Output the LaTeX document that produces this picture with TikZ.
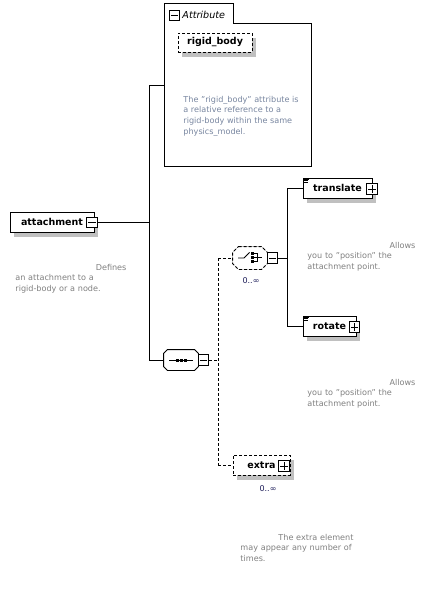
\documentclass[tikz,border=0pt]{standalone}
\usepackage{fontspec}
\setmainfont{DejaVu Sans}
\usetikzlibrary{shadows,calc}
\definecolor{desc}{RGB}{128,128,128}
\definecolor{adesc}{RGB}{120,134,160}
\definecolor{shade}{RGB}{192,192,192}
\definecolor{mult}{RGB}{30,30,90}
\newcommand{\nohyph}{\hyphenpenalty=10000\relax\exhyphenpenalty=10000\relax}
\begin{document}
\begin{tikzpicture}[x=1pt,y=-1pt,
  line width=0.9pt,
  shad/.style={drop shadow={shadow xshift=4pt,shadow yshift=-5pt,fill=shade,opacity=1}},
  elem/.style={draw, fill=white, inner sep=0pt, minimum height=20pt,
    font=\fontsize{9.5}{11}\selectfont\bfseries, shad},
  optelem/.style={elem, dashed, dash pattern=on 3pt off 2pt},
  iconbox/.style={draw, fill=white, inner sep=0pt, minimum size=10.5pt},
  desctext/.style={inner sep=0pt, anchor=north west, align=left, text=desc,
    font=\fontsize{8.1}{10.8}\selectfont\nohyph},
  multtext/.style={inner sep=0pt, text=mult, font=\fontsize{8}{10}\selectfont},
  conn/.style={line width=0.9pt},
  optconn/.style={line width=0.9pt, dash pattern=on 3pt off 2pt},
  oct/.style args={#1/#2}{insert path={
    ([xshift=#2]#1.north west) -- ([xshift=-#2]#1.north east) --
    ([yshift=-#2]#1.north east) -- ([yshift=#2]#1.south east) --
    ([xshift=-#2]#1.south east) -- ([xshift=#2]#1.south west) --
    ([yshift=#2]#1.south west) -- ([yshift=-#2]#1.north west) -- cycle}},
]
\useasboundingbox[fill=white] (0,0) rectangle (437,602);

% ---------- attribute group ----------
\node[inner sep=0pt, minimum width=146pt, minimum height=142pt] (attrbox) at (238,95) {};
\node[inner sep=0pt, minimum width=68pt, minimum height=19pt, anchor=south west] (attrtab) at (attrbox.north west) {};
\draw[fill=white] (attrtab.south west) -- (attrtab.north west) -- (attrtab.north east) --
  (attrtab.south east) -- (attrbox.north east) -- (attrbox.south east) -- (attrbox.south west) -- cycle;
\node[iconbox] (attrmin) at (174.5,15.5) {};
\draw ([xshift=2pt]attrmin.west) -- ([xshift=-2pt]attrmin.east);
\node[inner sep=0pt, anchor=west, font=\fontsize{9.6}{11}\selectfont\itshape] (attrlabel) at (182,15) {Attribute};
\node[optelem, minimum width=74pt, minimum height=19pt] (rigid) at (215,42.5) {rigid\_body};
\node[desctext, text=adesc] (rigiddesc) at (183,95.5) {The "rigid\_body" attribute is\\a relative reference to a\\rigid-body within the same\\physics\_model.};

% ---------- attachment ----------
\node[elem, minimum width=84pt] (attachment) at (52,222) {attachment\hspace{4pt}};
\node[iconbox] (attmin) at (92,222.5) {};
\draw ([xshift=2pt]attmin.west) -- ([xshift=-2pt]attmin.east);
\node[desctext, text width=111pt] (attdesc) at (15,263.5) {\hfill Defines\\an attachment to a\\rigid-body or a node.};

% ---------- sequence ----------
\node[inner sep=0pt, minimum width=34pt, minimum height=20pt] (seq) at (181,360) {};
\fill[shade, shift={(4,5)}, oct=seq/4pt];
\draw[fill=white, oct=seq/4pt];
\draw (169,360) -- (193,360);
\fill (175.5,358.5) rectangle (178.5,361.5);
\fill (179.5,358.5) rectangle (182.5,361.5);
\fill (183.5,358.5) rectangle (186.5,361.5);
\node[iconbox] (seqmin) at (203.5,360) {};
\draw ([xshift=2pt]seqmin.west) -- ([xshift=-2pt]seqmin.east);

% ---------- choice ----------
\node[inner sep=0pt, minimum width=34pt, minimum height=22pt] (choice) at (250,258) {};
\fill[shade, shift={(4,5)}, oct=choice/6pt];
\draw[fill=white, dash pattern=on 3pt off 2pt, oct=choice/6pt];
\draw (238,258) -- (244,258) -- (249.5,252.5);
\fill (250.5,252) rectangle (253.5,255);
\fill (250.5,256) rectangle (253.5,259);
\fill (250.5,260) rectangle (253.5,263);
\draw (254,253.5) -- (257.5,253.5) -- (257.5,261.5) -- (254,261.5);
\draw (254,257.5) -- (262,257.5);
\node[iconbox] (chmin) at (272.5,258) {};
\draw ([xshift=2pt]chmin.west) -- ([xshift=-2pt]chmin.east);
\node[multtext] (chmult) at (251,281) {0..∞};

% ---------- translate ----------
\node[elem, minimum width=69pt] (translate) at (337.5,188) {translate\hspace{5pt}};
\draw[line width=0.6pt] ([xshift=1.5pt,yshift=-1.5pt]translate.north west) -- ++(5,0)
  ([xshift=1.5pt,yshift=-3.2pt]translate.north west) -- ++(4,0)
  ([xshift=1.5pt,yshift=-4.9pt]translate.north west) -- ++(4,0);
\node[iconbox] (trplus) at (372,189) {};
\draw ([xshift=2pt]trplus.west) -- ([xshift=-2pt]trplus.east)
  ([yshift=-2pt]trplus.north) -- ([yshift=2pt]trplus.south);
\node[desctext, text width=108pt] (trdesc) at (307,241.5) {\hfill Allows\\you to "position" the\\attachment point.};

% ---------- rotate ----------
\node[elem, minimum width=53pt] (rotate) at (329.5,326) {rotate\hspace{4pt}};
\draw[line width=0.6pt] ([xshift=1.5pt,yshift=-1.5pt]rotate.north west) -- ++(5,0)
  ([xshift=1.5pt,yshift=-3.2pt]rotate.north west) -- ++(4,0)
  ([xshift=1.5pt,yshift=-4.9pt]rotate.north west) -- ++(4,0);
\node[iconbox] (rotplus) at (354.5,327) {};
\draw ([xshift=2pt]rotplus.west) -- ([xshift=-2pt]rotplus.east)
  ([yshift=-2pt]rotplus.north) -- ([yshift=2pt]rotplus.south);
\node[desctext, text width=108pt] (rotdesc) at (307,378.5) {\hfill Allows\\you to "position" the\\attachment point.};

% ---------- extra ----------
\node[optelem, minimum width=57pt] (extra) at (261.5,465) {extra\hspace{10pt}};
\node[iconbox] (explus) at (284,466) {};
\draw ([xshift=2pt]explus.west) -- ([xshift=-2pt]explus.east)
  ([yshift=-2pt]explus.north) -- ([yshift=2pt]explus.south);
\node[multtext] (exmult) at (268,488.5) {0..∞};
\node[desctext, text width=113pt] (exdesc) at (240,533.5) {\hfill The extra element\\may appear any number of\\times.};

% ---------- connectors ----------
\coordinate (j1) at (149,85);
\coordinate (j2) at (149,360);
\draw[conn] (attmin.east) -- (attmin.east -| j1);
\draw[conn] (j1) -- (j2);
\draw[conn] (j1) -- (j1 -| attrbox.west);
\draw[conn] (j2) -- (seq.west);

\coordinate (j3) at (218,258);
\coordinate (j4) at (218,465);
\draw[optconn] (seqmin.east) -- (seqmin.east -| j3);
\draw[optconn] (j3) -- (j4);
\draw[optconn] (j3) -- (choice.west);
\draw[optconn] (j4) -- (extra.west);

\coordinate (j5) at (287,188);
\coordinate (j6) at (287,326);
\draw[conn] (chmin.east) -- (chmin.east -| j5);
\draw[conn] (j5) -- (j6);
\draw[conn] (j5) -- (translate.west);
\draw[conn] (j6) -- (rotate.west);
\end{tikzpicture}
\end{document}
